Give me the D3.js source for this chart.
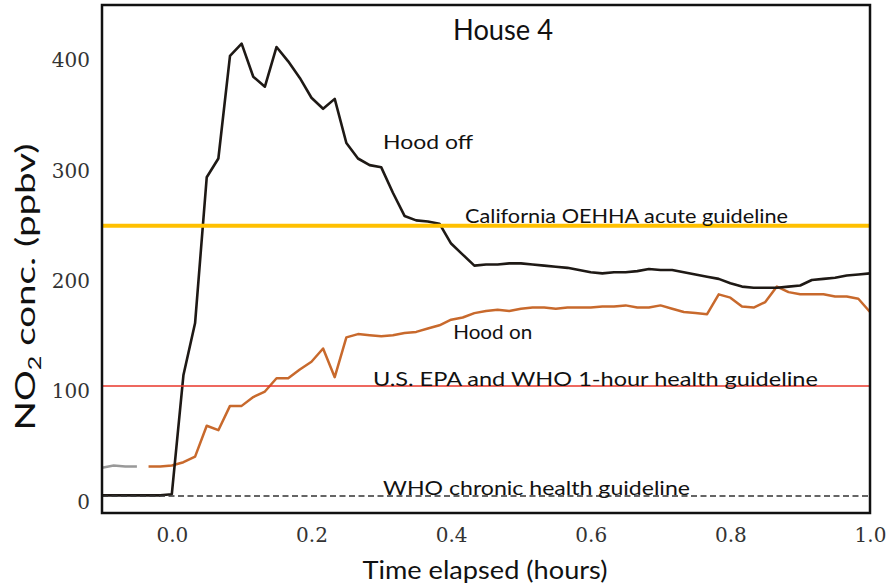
<!DOCTYPE html>
<html>
<head>
<meta charset="utf-8">
<script src="https://cdn.jsdelivr.net/npm/d3@7"></script>
<style>
  body { margin: 0; background: #fff; }
  svg { display: block; }
  .tick-label { font-family: "DejaVu Serif", serif; font-size: 20px; fill: #333; }
  .note { font-family: Lato, "Open Sans", sans-serif; fill: #111; }
</style>
</head>
<body>
<div id="chart"></div>
<script>
// minutes after the burner was switched on (1 sample per minute)
var offMinutes = d3.range(-6, 61);
var hoodOff = [6, 6, 6, 6, 6, 6, 7,
    115, 162, 294, 311, 404, 415, 385, 376, 412, 399,
    384, 366, 356, 365, 325, 311, 305, 303, 280, 259,
    255, 254, 252, 234, 224, 214, 215, 215, 216, 216,
    215, 214, 213, 212, 210, 208, 207, 208, 208, 209,
    211, 210, 210, 208, 206, 204, 202, 198, 195, 194,
    194, 194, 195, 196, 201, 202, 203, 205, 206, 207];

var preMinutes = [-6, -5, -4, -3];
var hoodOnPre = [31, 33, 32, 32];

var onMinutes = d3.range(-2, 61);
var hoodOn = [32, 32, 33,
    36, 41, 69, 65, 87, 87, 95, 100, 112, 112,
    120, 127, 139, 113, 149, 152, 151, 150, 151, 153,
    154, 157, 160, 165, 167, 171, 173, 174, 173, 175,
    176, 176, 175, 176, 176, 176, 177, 177, 178, 176,
    176, 178, 175, 172, 171, 170, 188, 185, 177, 176,
    181, 195, 190, 188, 188, 188, 186, 186, 184, 172];

var guidelines = [250, 105, 5.3];
var xTicks = [0, 0.2, 0.4, 0.6, 0.8, 1.0];
var yTicks = [0, 100, 200, 300, 400];

var width = 889,
    height = 586,
    margin = { top: 5, right: 19, bottom: 73, left: 102 };

var svg = d3.select('#chart').append('svg')
    .attr('width', width)
    .attr('height', height);

var x = d3.scaleLinear().domain([-0.1, 1.0]).range([margin.left, width - margin.right]);
var y = d3.scaleLinear().domain([-10, 450]).range([height - margin.bottom, margin.top]);

function series(minutes, values) {
    return minutes.map(function(m, i) { return [m / 60, values[i]]; });
}

var line = d3.line()
    .x(function(d) { return x(d[0]); })
    .y(function(d) { return y(d[1]); });

var plot = svg.append('g');

plot.append('path')
    .attr('d', line(series(preMinutes, hoodOnPre)))
    .attr('fill', 'none')
    .attr('stroke', '#999')
    .attr('stroke-width', 2.5);

plot.append('path')
    .attr('d', line(series(onMinutes, hoodOn)))
    .attr('fill', 'none')
    .attr('stroke', '#c8692c')
    .attr('stroke-width', 2.5)
    .attr('stroke-linejoin', 'round');

plot.append('path')
    .attr('d', line(series(offMinutes, hoodOff)))
    .attr('fill', 'none')
    .attr('stroke', '#1e1915')
    .attr('stroke-width', 2.6)
    .attr('stroke-linejoin', 'round');

// guideline levels
var gStyles = [
    { color: '#ffc000', w: 4, dash: null },
    { color: '#e8362a', w: 1.6, dash: null },
    { color: '#333', w: 1.5, dash: '6,3.5' }
];
plot.selectAll('line.guide')
    .data(guidelines)
    .enter()
    .append('line')
    .attr('class', 'guide')
    .attr('x1', x(-0.1))
    .attr('x2', x(1.0))
    .attr('y1', function(d) { return y(d); })
    .attr('y2', function(d) { return y(d); })
    .attr('stroke', function(d, i) { return gStyles[i].color; })
    .attr('stroke-width', function(d, i) { return gStyles[i].w; })
    .attr('stroke-dasharray', function(d, i) { return gStyles[i].dash; });

// axes (labels only, no tick marks)
var xAxis = svg.append('g')
    .attr('transform', 'translate(0,' + (height - margin.bottom) + ')')
    .call(d3.axisBottom(x).tickValues(xTicks).tickFormat(d3.format('.1f')).tickSize(0).tickPadding(15));
xAxis.select('.domain').remove();
xAxis.selectAll('text').attr('class', 'tick-label').attr('fill', null);

var yAxis = svg.append('g')
    .attr('transform', 'translate(' + margin.left + ',0)')
    .call(d3.axisLeft(y).tickValues(yTicks).tickSize(0).tickPadding(12));
yAxis.select('.domain').remove();
yAxis.selectAll('text').attr('class', 'tick-label').attr('fill', null);

// frame
svg.append('rect')
    .attr('x', margin.left)
    .attr('y', margin.top)
    .attr('width', width - margin.left - margin.right)
    .attr('height', height - margin.top - margin.bottom)
    .attr('fill', 'none')
    .attr('stroke', '#111')
    .attr('stroke-width', 2.5);

// text
svg.append('text')
    .attr('class', 'note')
    .attr('x', 503)
    .attr('y', 40)
    .attr('text-anchor', 'middle')
    .attr('font-size', 28)
    .attr('textLength', 100)
    .attr('lengthAdjust', 'spacingAndGlyphs')
    .text('House 4');

var notes = [
    { t: 0.3025, v: 320, s: 19, w: 90, text: 'Hood off' },
    { t: 0.42, v: 253, s: 18.5, w: 323, text: 'California OEHHA acute guideline' },
    { t: 0.403, v: 148, s: 19, w: 79, text: 'Hood on' },
    { t: 0.288, v: 105, s: 19, w: 445, text: 'U.S. EPA and WHO 1-hour health guideline' },
    { t: 0.3025, v: 6.5, s: 19, w: 307, text: 'WHO chronic health guideline' }
];
svg.selectAll('text.ann')
    .data(notes)
    .enter()
    .append('text')
    .attr('class', 'note ann')
    .attr('x', function(d) { return x(d.t); })
    .attr('y', function(d) { return y(d.v); })
    .attr('font-size', function(d) { return d.s; })
    .attr('textLength', function(d) { return d.w; })
    .attr('lengthAdjust', 'spacingAndGlyphs')
    .text(function(d) { return d.text; });

svg.append('text')
    .attr('class', 'note')
    .attr('x', 485)
    .attr('y', 579)
    .attr('text-anchor', 'middle')
    .attr('font-size', 25)
    .attr('textLength', 245)
    .attr('lengthAdjust', 'spacingAndGlyphs')
    .text('Time elapsed (hours)');

var yl = svg.append('text')
    .attr('class', 'note')
    .attr('transform', 'translate(35,287) rotate(-90)')
    .attr('text-anchor', 'middle')
    .attr('font-size', 26)
    .attr('textLength', 287)
    .attr('lengthAdjust', 'spacingAndGlyphs');
yl.append('tspan').text('NO');
yl.append('tspan').attr('font-size', 17).attr('dy', 6).text('2');
yl.append('tspan').attr('dy', -6).text(' conc. (ppbv)');
</script>
</body>
</html>
